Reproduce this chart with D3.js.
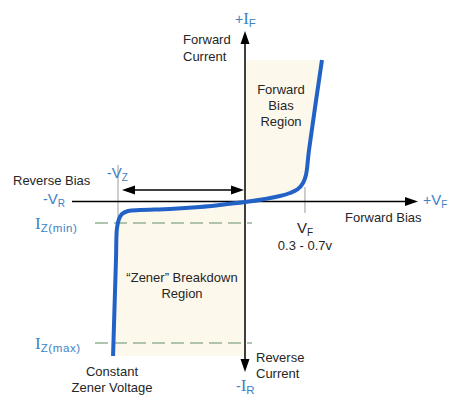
<!DOCTYPE html>
<html><head><meta charset="utf-8">
<script src="https://cdn.jsdelivr.net/npm/d3@7"></script>
<style>
body{margin:0;background:#fff;}
text{font-family:Arial,"Liberation Sans",sans-serif;}
</style></head>
<body><svg id="c" width="459" height="402"></svg>
<script>
// Zener diode I-V characteristic (relative units: -Vz = -1, Iz(max) = -1, top of trace = +1)
const voltage = [0.606, 0.504, 0.48, 0.457, 0.417, 0.354, 0.276, 0.157, 0, -0.197, -0.354, -0.59, -0.827, -0.921, -0.969, -0.992, -1.008, -1.016, -1.039];
const current = [1.0, 0.364, 0.187, 0.131, 0.088, 0.06, 0.039, 0.018, -0.004, -0.025, -0.039, -0.053, -0.06, -0.067, -0.088, -0.124, -0.187, -0.413, -1.092];
const zenerVoltage = -1;          // -Vz
const forwardVoltage = 0.472;     // Vf knee (0.3 - 0.7v)
const izMin = -0.152;
const izMax = -1.0;
const forwardLabels = ["Forward", "Bias", "Region"];
const zenerLabels = ["\u201cZener\u201d Breakdown", "Region"];

const svg = d3.select("#c");
const x = d3.scaleLinear().domain([-1, 1]).range([118, 372]);
const y = d3.scaleLinear().domain([-1, 1]).range([343, 60]);
const pts = voltage.map((v, i) => [v, current[i]]);
const line = d3.line().x(d => x(d[0])).y(d => y(d[1])).curve(d3.curveCatmullRom.alpha(0.5));

const cream = "#fdf8ec", blue = "#2262c6", lblue = "#3d82c4", dark = "#262626";

// shaded regions
const iZero = voltage.indexOf(0);
const fwd = pts.slice(0, iZero + 1);
svg.append("path").attr("d", line(fwd) + `L${x(0)},${y(1)}Z`).attr("fill", cream);
const rev = pts.slice(iZero);
svg.append("path").attr("d", line(rev) + `L${x(0)},${y(current[current.length-1])}Z`).attr("fill", cream);

// reference lines
const dashCol = "#97b297";
[izMin, izMax].forEach(v => {
  svg.append("line").attr("x1", 95).attr("x2", 252).attr("y1", y(v)).attr("y2", y(v))
    .attr("stroke", dashCol).attr("stroke-width", 1.3).attr("stroke-dasharray", "13,6");
});
svg.append("line").attr("x1", x(zenerVoltage)).attr("x2", x(zenerVoltage)).attr("y1", 165).attr("y2", 224)
  .attr("stroke", "#bdbdbd").attr("stroke-width", 1.5);
svg.append("line").attr("x1", x(forwardVoltage)).attr("x2", x(forwardVoltage)).attr("y1", 187).attr("y2", 213)
  .attr("stroke", "#bdbdbd").attr("stroke-width", 1.5);

// axes
const x0 = x(0), y0 = y(0);
svg.append("line").attr("x1", 72).attr("x2", 408).attr("y1", y0).attr("y2", y0).attr("stroke", "#000").attr("stroke-width", 1.5);
svg.append("line").attr("x1", x0).attr("x2", x0).attr("y1", 42).attr("y2", 362).attr("stroke", "#000").attr("stroke-width", 1.5);
function arrow(tx, ty, dir) { // dir: "r","l","u","d"
  const L = 13, W = 4.5;
  let p;
  if (dir === "r") p = [[tx, ty], [tx - L, ty - W], [tx - L, ty + W]];
  if (dir === "l") p = [[tx, ty], [tx + L, ty - W], [tx + L, ty + W]];
  if (dir === "u") p = [[tx, ty], [tx - W, ty + L], [tx + W, ty + L]];
  if (dir === "d") p = [[tx, ty], [tx - W, ty - L], [tx + W, ty - L]];
  svg.append("path").attr("d", "M" + p.join("L") + "Z").attr("fill", "#000");
}
arrow(418, y0, "r"); arrow(x0, 31, "u"); arrow(x0, 372, "d");
// -Vz span arrow
const ya = 190;
svg.append("line").attr("x1", x(zenerVoltage) + 8).attr("x2", x0 - 8).attr("y1", ya).attr("y2", ya).attr("stroke", "#000").attr("stroke-width", 1.5);
arrow(x(zenerVoltage) + 4, ya, "l"); arrow(x0 - 1, ya, "r");

// characteristic curve
svg.append("path").attr("d", line(pts)).attr("fill", "none").attr("stroke", blue).attr("stroke-width", 4);

// text helpers
function txt(s, tx, ty, anchor, col, size) {
  return svg.append("text").attr("x", tx).attr("y", ty).attr("text-anchor", anchor || "start")
    .attr("fill", col || dark).attr("font-size", size || 13).text(s);
}
function sym(tx, ty, prefix, main, sub, serif, col) {
  const t = svg.append("text").attr("x", tx).attr("y", ty).attr("fill", col || lblue);
  if (prefix) t.append("tspan").attr("font-size", 14).text(prefix);
  t.append("tspan").attr("font-size", serif ? 17 : 15)
    .attr("font-family", serif ? "'Liberation Serif','Times New Roman',serif" : null).text(main);
  t.append("tspan").attr("font-size", serif ? 11.5 : 10).attr("dy", 3)
    .attr("letter-spacing", serif ? 0.6 : 0).text(sub);
  return t;
}

txt("Forward", 183, 44); txt("Current", 183, 61);
forwardLabels.forEach((s, i) => txt(s, 281, 94 + i * 16, "middle"));
txt("Reverse Bias", 13, 185);
txt("Forward Bias", 345, 222);
zenerLabels.forEach((s, i) => txt(s, 182, 282 + i * 16, "middle"));
txt("Constant", 112, 376, "middle"); txt("Zener Voltage", 112, 392, "middle");
txt("Reverse", 256, 362); txt("Current", 256, 378);
txt("0.3 - 0.7v", x(forwardVoltage), 250, "middle");

sym(235, 24, "+", "I", "F", true);
sym(43, 204, "-", "V", "R", false);
sym(107, 178, "-", "V", "Z", false);
sym(423, 205, "+", "V", "F", false);
sym(297, 233, null, "V", "F", false, dark);
sym(35, 229, null, "I", "Z(min)", true);
sym(35, 349, null, "I", "Z(max)", true);
sym(236, 391, "-", "I", "R", true);
</script></body></html>
